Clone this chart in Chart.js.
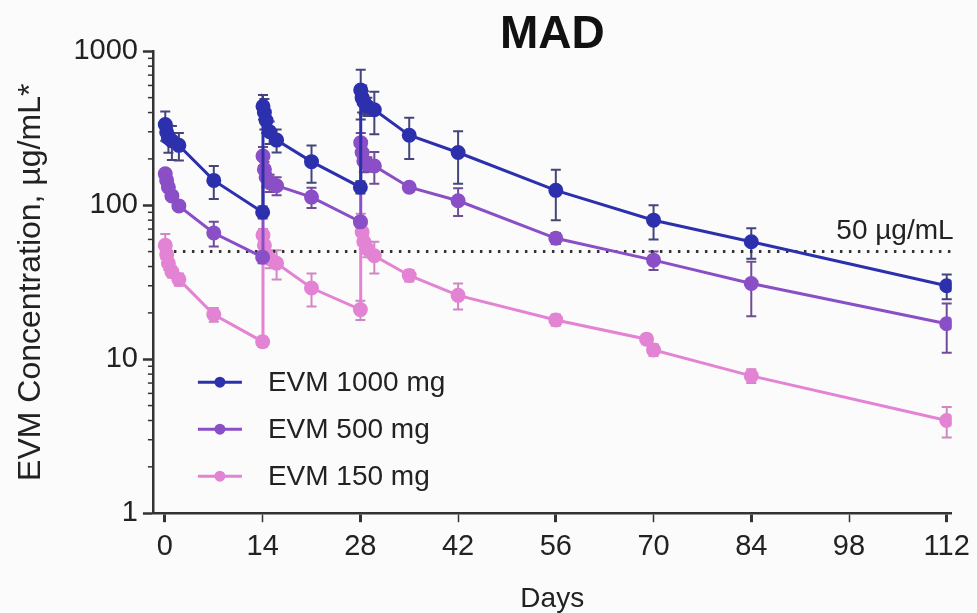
<!DOCTYPE html>
<html>
<head>
<meta charset="utf-8">
<title>MAD</title>
<script src="https://cdn.jsdelivr.net/npm/chart.js@4.4.1/dist/chart.umd.min.js"></script>
<style>
  html, body { margin: 0; padding: 0; background: #fbfbfc; }
  canvas { display: block; }
</style>
</head>
<body>
<canvas id="myChart" width="977" height="613"></canvas>
<script>
// sampling days (dosing on day 0, 14 and 28)
const days = [0.05, 0.25, 0.5, 1, 2, 7, 14, 14.05, 14.25, 14.5, 15, 16, 21, 28, 28.05, 28.25, 28.5, 29, 30, 35, 42, 56, 70, 84, 112]
const days150 = [0.05, 0.25, 0.5, 1, 2, 7, 14, 14.05, 14.25, 14.5, 15, 16, 21, 28, 28.05, 28.25, 28.5, 29, 30, 35, 42, 56, 69, 70, 84, 112]

// mean concentration, µg/mL
const evm1000 = [334, 298, 274, 262, 245, 145, 90, 440, 400, 355, 300, 265, 192, 131, 560, 500, 470, 440, 417, 285, 220, 125, 80, 58, 30]
const evm500 = [160, 145, 131, 115, 99, 66, 46, 209, 171, 152, 140, 134, 113, 78, 255, 220, 194, 185, 180, 131, 107, 61, 44, 31, 17]
const evm150 = [55, 48, 42, 37, 33, 19.5, 13, 64, 55, 48, 45, 42, 29, 21, 78, 67, 58, 52, 47, 35, 26, 18, 13.5, 11.5, 7.8, 4.0]

// standard deviations
const sd1000 = [72, 40, 55, 65, 50, 35, 8, 80, 90, 60, 50, 45, 52, 12, 200, 100, 80, 60, 128, 85, 82, 45, 20, 13, 5.5]
const sd500 = [10, 8, 8, 6, 6, 12, 4, 30, 20, 20, 18, 18, 17, 6, 40, 30, 30, 20, 42, 8, 22, 5, 6, 12, 6]
const sd150 = [10, 5, 4, 3, 3, 2, 1, 6, 6, 6, 6, 9, 7, 3, 10, 8, 6, 6, 11, 3, 5, 1.5, 1, 1, 0.8, 0.9]

const threshold = 50
const xTicks = [0, 14, 28, 42, 56, 70, 84, 98, 112]
const yTicks = [1, 10, 100, 1000]

const FONT = "'Liberation Sans', Arial, Helvetica, sans-serif"
const INK = '#222'
Chart.defaults.font.family = FONT
Chart.defaults.color = INK

const toPoints = (xs, ys) => xs.map((d, i) => ({ x: d, y: ys[i] }))

function series(label, xs, ys, sd, color, barColor) {
    return {
        label: label,
        data: toPoints(xs, ys),
        sd: sd,
        barColor: barColor,
        borderColor: color,
        backgroundColor: color,
        pointBackgroundColor: color,
        pointBorderColor: color,
        pointRadius: 6,
        borderWidth: 3,
        tension: 0
    }
}

// error bars, drawn from the scales
const errorBars = {
    id: 'errorBars',
    beforeDatasetsDraw(chart) {
        const c = chart.ctx
        const y = chart.scales.y
        chart.data.datasets.forEach((ds, i) => {
            if (!ds.sd) return
            const meta = chart.getDatasetMeta(i)
            c.save()
            c.strokeStyle = ds.barColor
            c.lineWidth = 2
            meta.data.forEach((pt, j) => {
                const v = ds.data[j].y
                const hi = y.getPixelForValue(v + ds.sd[j])
                const lo = y.getPixelForValue(Math.max(v - ds.sd[j], 0.5))
                c.beginPath()
                c.moveTo(pt.x, hi); c.lineTo(pt.x, lo)
                c.moveTo(pt.x - 5, hi); c.lineTo(pt.x + 5, hi)
                c.moveTo(pt.x - 5, lo); c.lineTo(pt.x + 5, lo)
                c.stroke()
            })
            c.restore()
        })
    }
}

// minor log ticks, legend and threshold label
const extras = {
    id: 'extras',
    afterDraw(chart) {
        const c = chart.ctx
        const area = chart.chartArea
        const y = chart.scales.y
        c.save()
        c.strokeStyle = '#333'
        c.lineWidth = 1.5
        for (const dec of [1, 10, 100]) {
            for (let k = 2; k < 10; k++) {
                const py = y.getPixelForValue(k * dec)
                c.beginPath()
                c.moveTo(area.left - 5, py); c.lineTo(area.left, py)
                c.stroke()
            }
        }

        c.fillStyle = INK
        c.font = '28px ' + FONT
        c.textAlign = 'right'
        c.textBaseline = 'alphabetic'
        c.fillText('50 µg/mL', area.right + 2, y.getPixelForValue(threshold) - 13)

        const rows = [-131, -84, -37]
        let r = 0
        chart.data.datasets.forEach(ds => {
            if (!ds.sd) return
            const py = area.bottom + rows[r++]
            const lx = area.left + 45
            c.strokeStyle = ds.borderColor
            c.lineWidth = 3
            c.beginPath()
            c.moveTo(lx, py); c.lineTo(lx + 44, py)
            c.stroke()
            c.fillStyle = ds.borderColor
            c.beginPath()
            c.arc(lx + 22, py, 5.5, 0, Math.PI * 2)
            c.fill()
            c.fillStyle = INK
            c.textAlign = 'left'
            c.textBaseline = 'middle'
            c.font = '28px ' + FONT
            c.fillText(ds.label, area.left + 115, py + 1)
        })
        c.restore()
    }
}

const ctx = document.getElementById('myChart').getContext('2d')

const myChart = new Chart(ctx, {
    type: 'line',
    data: {
        datasets: [
            series('EVM 1000 mg', days, evm1000, sd1000, '#2c30ac', '#44457a'),
            series('EVM 500 mg', days, evm500, sd500, '#8a4fc6', '#6f4d96'),
            series('EVM 150 mg', days150, evm150, sd150, '#e383d3', '#d088c4'),
            {
                label: 'threshold',
                data: [{ x: 0, y: threshold }, { x: 112.6, y: threshold }],
                borderColor: '#333',
                borderWidth: 3,
                borderDash: [2.5, 6.5],
                pointRadius: 0
            }
        ]
    },
    options: {
        responsive: false,
        animation: false,
        events: [],
        layout: { padding: { left: 0, right: 24, top: 0, bottom: 0 } },
        plugins: {
            legend: { display: false },
            tooltip: { enabled: false },
            title: {
                display: true,
                text: 'MAD',
                fullSize: false,
                color: '#111',
                font: { size: 46, weight: 'bold', lineHeight: 0.68 },
                padding: { top: 20, bottom: 0 }
            }
        },
        scales: {
            x: {
                type: 'linear',
                min: -1.72,
                max: 112.7,
                afterBuildTicks: s => { s.ticks = xTicks.map(v => ({ value: v })) },
                ticks: { font: { size: 29 }, color: INK, padding: 7, maxRotation: 0, autoSkip: false },
                grid: {
                    drawOnChartArea: false,
                    tickLength: 9,
                    tickColor: '#333',
                    tickWidth: c => (c.tick && c.tick.value % 28 === 0) ? 3 : 1.5
                },
                border: { color: '#333', width: 2.5 },
                title: { display: true, text: 'Days', font: { size: 28, lineHeight: 1.0 }, color: INK, padding: { top: 14, bottom: 0 } }
            },
            y: {
                type: 'logarithmic',
                min: 1,
                max: 1000,
                afterBuildTicks: s => { s.ticks = yTicks.map(v => ({ value: v })) },
                ticks: { font: { size: 29 }, color: INK, padding: 5, callback: v => String(v) },
                grid: { drawOnChartArea: false, tickLength: 10, tickColor: '#333', tickWidth: 2.5 },
                border: { color: '#333', width: 2.5 },
                title: {
                    display: true,
                    text: 'EVM Concentration, µg/mL*',
                    font: { size: 32 },
                    color: INK,
                    padding: { top: 12, bottom: 18 }
                }
            }
        }
    },
    plugins: [errorBars, extras]
})
</script>
</body>
</html>
